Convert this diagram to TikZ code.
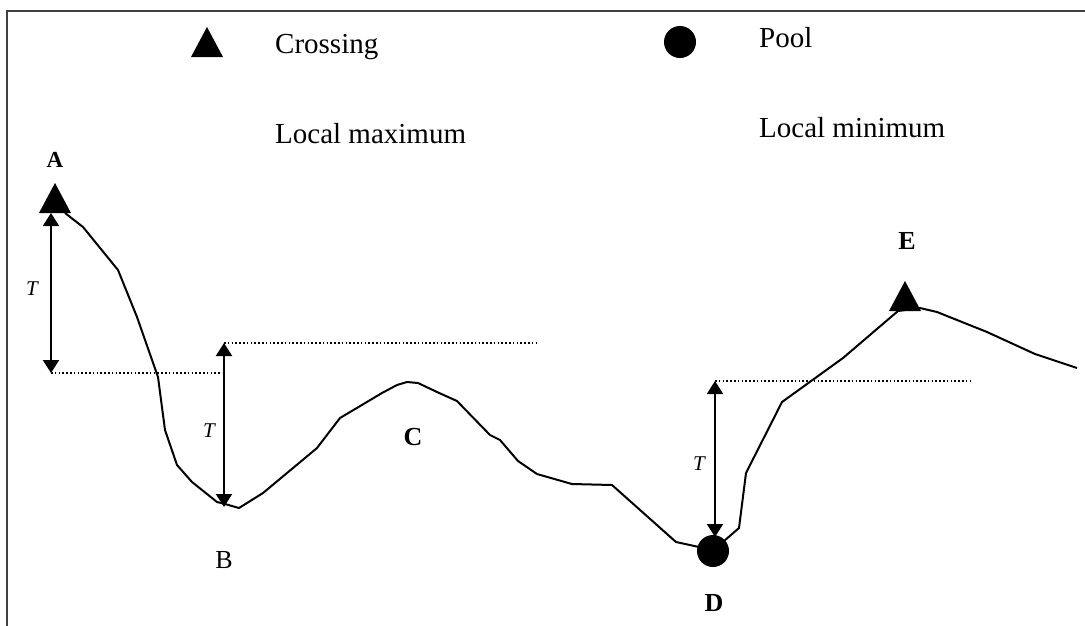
\documentclass[tikz,border=0pt]{standalone}
\usepackage{fontspec}
\setmainfont{Liberation Serif}
\usetikzlibrary{arrows.meta}
\tikzset{
  frameline/.style={draw=black!75, line width=2pt},
  profile/.style={draw=black, line width=2pt, line join=round},
  tarrow/.style={draw=black, line width=2pt, {Triangle[width=16pt,length=13pt]}-{Triangle[width=16pt,length=13pt]}},
  level/.style={draw=black, line width=1.6pt, dash pattern=on 1.6pt off 2.2pt},
  legendtxt/.style={anchor=base west, inner sep=0pt, font=\fontsize{29}{34}\selectfont},
  ptlabel/.style={anchor=base, inner sep=0pt, font=\fontsize{26}{30}\selectfont\bfseries},
  tlabel/.style={anchor=base, inner sep=0pt, font=\fontsize{21}{25}\selectfont\itshape},
}
\newcommand{\crosstri}[1]{\fill[black] ($(#1)+(-16,0)$) -- ($(#1)+(16,0)$) -- ($(#1)+(0,-30)$) -- cycle;}
\usetikzlibrary{calc}
\begin{document}
\begin{tikzpicture}[x=1pt,y=-1pt]
\useasboundingbox (0,0) rectangle (1085,625);
% frame (left and top edges only)
\draw[frameline] (7,626) -- (7,10.5) -- (1086,10.5);

% legend
\coordinate (legtri) at (207,57);
\crosstri{legtri}
\node[legendtxt] (crossing) at (275,53) {Crossing};
\node[legendtxt] (localmax) at (275,143) {Local maximum};
\fill[black] (680,42) circle (16);
\node[legendtxt] (pool) at (759,47) {Pool};
\node[legendtxt] (localmin) at (759,137) {Local minimum};

% profile
\draw[profile] (65,213) -- (83,227) -- (118,270) -- (137,317) -- (158,377) -- (165,430)
  -- (177,465) -- (192,482) -- (217,502) -- (225,504) -- (239,508) -- (263,493)
  -- (317,448) -- (340,418) -- (382,393) -- (397,385) -- (407,382) -- (418,383)
  -- (437,392) -- (457,401) -- (490,435) -- (500,440) -- (518,461) -- (537,474)
  -- (572,484) -- (612,485) -- (676,542) -- (699,547) -- (713,551) -- (724,541)
  -- (739,528) -- (746,473) -- (782,402) -- (843,358) -- (898,311) -- (920,308)
  -- (937,312) -- (987,332) -- (1035,354) -- (1077,368);

% markers on profile
\coordinate (Atop) at (55,213);
\crosstri{Atop}
\coordinate (Etop) at (905,311);
\crosstri{Etop}
\fill[black] (713,551) circle (16);

% labels
\node[ptlabel, font=\fontsize{23}{27}\selectfont\bfseries] (A) at (55,167) {A};
\node[anchor=base, inner sep=0pt, font=\fontsize{26}{30}\selectfont] (B) at (224,568) {B};
\node[ptlabel] (C) at (413,445) {C};
\node[ptlabel] (D) at (714,611) {D};
\node[ptlabel] (E) at (907,249) {E};

% threshold arrows and levels
\coordinate (a1t) at (51,213);
\coordinate (a1b) at (51,373);
\coordinate (l1e) at (222,373);
\draw[tarrow] (a1t) -- (a1b);
\draw[level] (a1b) -- (l1e);
\node[tlabel] (T1) at (32,295) {T};

\coordinate (a2t) at (224,343);
\coordinate (a2b) at (224,507);
\coordinate (l2e) at (537,343);
\draw[tarrow] (a2t) -- (a2b);
\draw[level] (a2t) -- (l2e);
\node[tlabel] (T2) at (209,437) {T};

\coordinate (a3t) at (715,381);
\coordinate (a3b) at (715,537);
\coordinate (l3e) at (973,381);
\draw[tarrow] (a3t) -- (a3b);
\draw[level] (a3t) -- (l3e);
\node[tlabel] (T3) at (699,470) {T};
\end{tikzpicture}
\end{document}
